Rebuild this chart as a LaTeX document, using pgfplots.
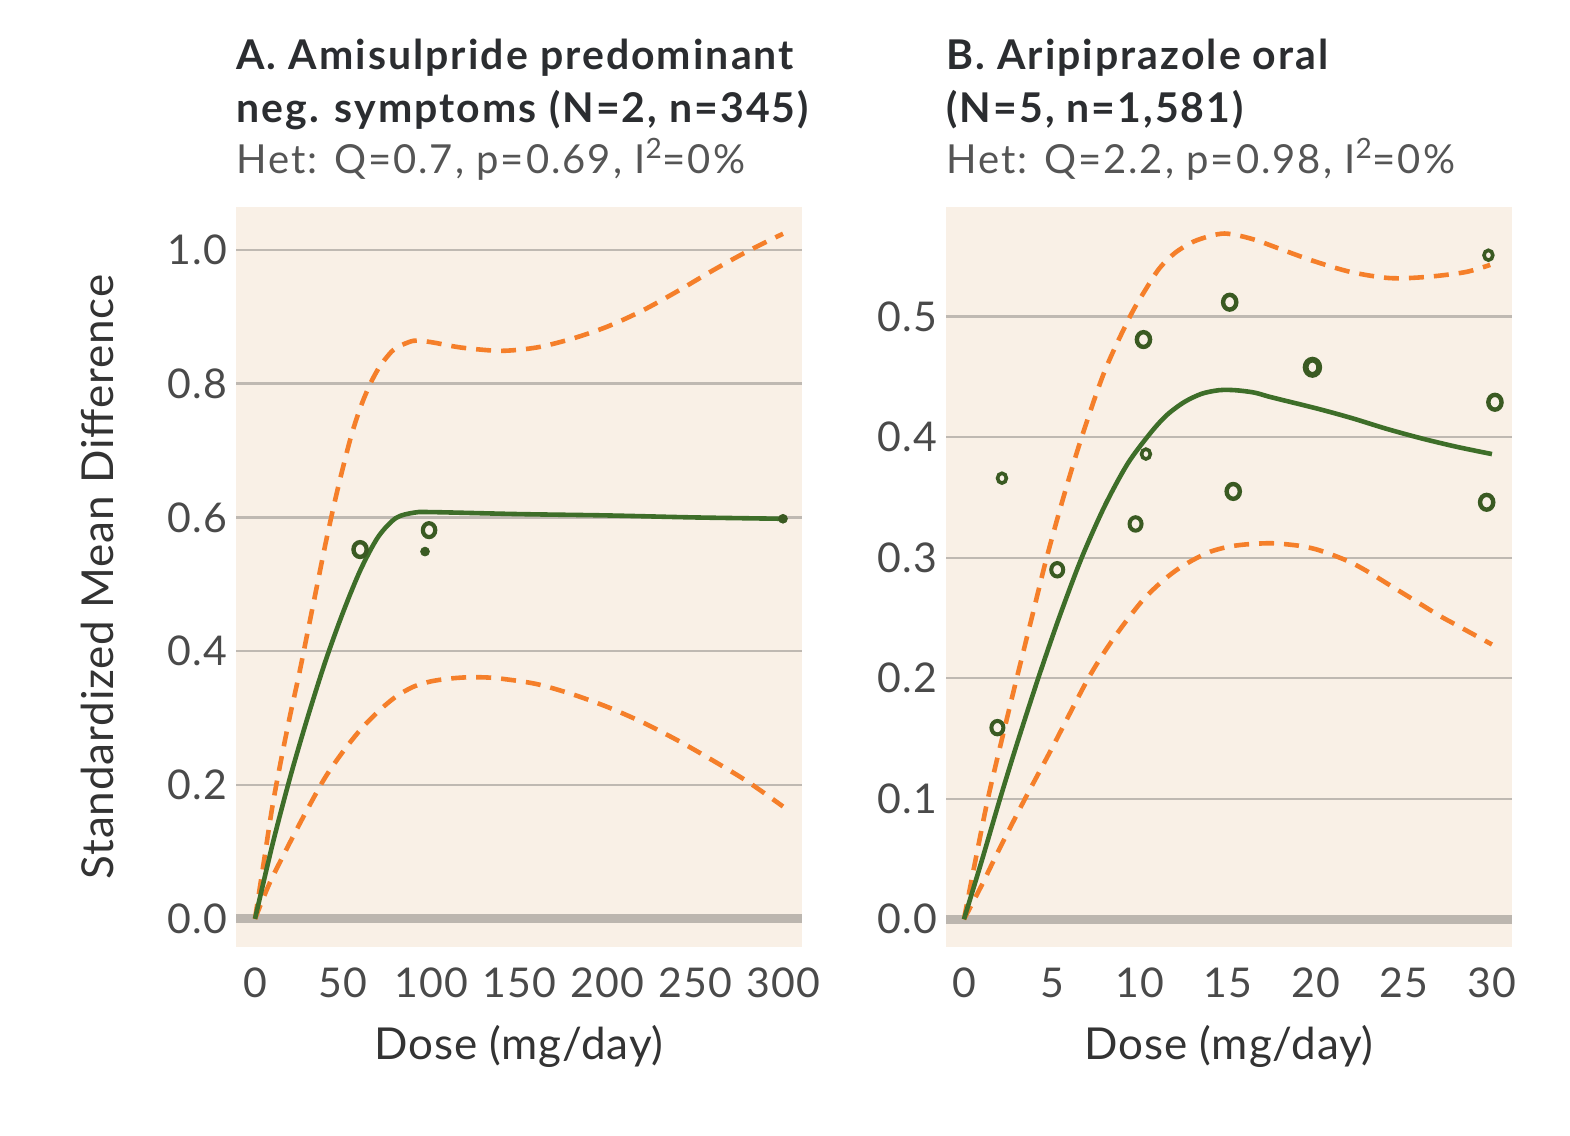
\documentclass[border=0pt]{standalone}
\usepackage{pgfplots}
\pgfplotsset{compat=1.18}
\usepackage{fontspec}
\setmainfont{Lato}
\definecolor{bgc}{HTML}{F9F0E6}
\definecolor{gridc}{HTML}{BFB9B2}
\definecolor{zeroc}{HTML}{BCB6AF}
\definecolor{grn}{HTML}{3E6E29}
\definecolor{mk}{HTML}{3A5A22}
\definecolor{org}{HTML}{F57F2A}
\definecolor{tickc}{HTML}{4A4A4A}
\definecolor{labc}{HTML}{333333}
\definecolor{titc}{HTML}{2B2D30}
\definecolor{hetc}{HTML}{555555}

\pgfplotstableread{
x y
0 0
10 0.112
20 0.212
30 0.302
40 0.385
50 0.458
60 0.522
70 0.571
80 0.599
90 0.607
100 0.608
150 0.605
200 0.603
250 0.600
300 0.598
}\Agreen
\pgfplotstableread{
x y
0 0
5 0.085
10 0.17
15 0.24
20 0.305
25 0.365
30 0.43
35 0.495
40 0.56
45 0.62
50 0.675
55 0.725
60 0.765
65 0.797
70 0.822
75 0.84
80 0.853
90 0.864
100 0.862
110 0.857
120 0.853
140 0.849
160 0.854
180 0.867
200 0.885
220 0.909
240 0.938
260 0.969
280 0.998
300 1.024
}\Aupper
\pgfplotstableread{
x y
0 0
5 0.033
10 0.063
20 0.115
30 0.165
40 0.212
50 0.25
60 0.283
70 0.31
80 0.332
90 0.347
100 0.355
110 0.359
120 0.361
130 0.361
140 0.359
160 0.351
180 0.336
200 0.317
220 0.294
240 0.267
260 0.237
280 0.205
300 0.168
}\Alower
\pgfplotstableread{
x y
0 0
1 0.048
2.05 0.1
3 0.145
4.22 0.2
5.4 0.25
6.69 0.3
8 0.343
9.3 0.378
10.57 0.403
11.5 0.418
12.5 0.429
13.5 0.436
14.5 0.439
15.4 0.439
16.5 0.437
17.5 0.433
20 0.424
22 0.416
24 0.407
26 0.399
28 0.392
30 0.386
}\Bgreen
\pgfplotstableread{
x y
0 0
0.6 0.045
1.36 0.1
2.2 0.152
3 0.2
3.85 0.25
4.7 0.3
5.65 0.35
6.69 0.4
8 0.455
9.43 0.5
10.3 0.522
11.1 0.54
12 0.553
13 0.562
14 0.567
14.8 0.569
15.7 0.567
16.7 0.563
18 0.556
19.9 0.546
22 0.537
24.2 0.532
26.3 0.533
28.5 0.537
29.9 0.543
}\Bupper
\pgfplotstableread{
x y
0 0
1 0.028
2 0.058
3.47 0.1
5 0.142
7.07 0.2
8.5 0.233
10 0.262
11 0.277
12 0.289
13 0.298
14 0.305
15 0.309
16 0.311
17.5 0.312
19 0.31
20 0.307
21 0.302
22 0.296
23 0.288
24 0.279
25 0.27
26 0.261
27 0.252
28 0.244
29 0.236
30 0.228
}\Blower

\begin{document}
\begin{tikzpicture}
\useasboundingbox (0,0) rectangle (785bp,568bp);
\pgfplotsset{
  common/.style={
    scale only axis, width=283bp, height=370bp, anchor=south west,
    axis background/.style={fill=bgc},
    axis line style={draw=none},
    major tick length=0pt,
    ymajorgrids, grid style={line width=1.2bp, color=gridc},
    extra y ticks={0}, extra y tick labels={},
    extra y tick style={grid style={line width=4.6bp, color=zeroc}},
    tick label style={font=\fontsize{20.5bp}{24bp}\selectfont\addfontfeatures{LetterSpace=3}, text=tickc},
    /pgf/number format/assume math mode=true,
    yticklabel style={xshift=-1bp, /pgf/number format/fixed, /pgf/number format/fixed zerofill, /pgf/number format/precision=1},
    xticklabel style={yshift=-7bp},
    label style={font=\fontsize{22bp}{26bp}\selectfont\addfontfeatures{LetterSpace=2}, text=labc},
    xlabel={Dose (mg/day)},
    xlabel style={at={(axis description cs:0.5,-0.135)}, anchor=center},
    grnline/.style={color=grn, line width=2.3bp, smooth, tension=0.5, no marks},
    orgline/.style={color=org, line width=2.3bp, dash pattern=on 7.5bp off 5bp, smooth, tension=0.5, no marks},
    ring/.style 2 args={only marks, mark=o, mark size=##1, mark options={draw=mk, line width=##2, yscale=1.12}},
  },
}
\begin{axis}[common, at={(118bp,94.5bp)},
  xmin=-10.8, xmax=310.8, ymin=-0.042, ymax=1.064,
  xtick={0,50,100,150,200,250,300},
  ytick={0,0.2,0.4,0.6,0.8,1},
  ylabel={Standardized Mean Difference},
  ylabel style={at={(axis description cs:-0.2456,0.5)}, anchor=center}]
\addplot[orgline] table {\Aupper};
\addplot[orgline] table {\Alower};
\addplot[grnline] table {\Agreen};
\addplot[ring={3.3bp}{2.2bp}] coordinates {(59.7,0.552)};
\addplot[ring={3.1bp}{2.1bp}] coordinates {(98.9,0.581)};
\addplot[only marks, mark=*, mark size=2.2bp, mark options={draw=mk, fill=mk}] coordinates {(96.6,0.549) (300,0.598)};
\end{axis}
\begin{axis}[common, at={(473bp,94.5bp)},
  xmin=-1.02, xmax=31.14, ymin=-0.023, ymax=0.591,
  xtick={0,5,10,15,20,25,30},
  ytick={0,0.1,0.2,0.3,0.4,0.5}]
\addplot[orgline] table {\Bupper};
\addplot[orgline] table {\Blower};
\addplot[grnline] table {\Bgreen};
\addplot[ring={2.2bp}{1.8bp}] coordinates {(2.16,0.366) (10.34,0.386) (29.8,0.551)};
\addplot[ring={3.0bp}{2.0bp}] coordinates {(1.9,0.159) (5.3,0.290) (9.75,0.328)};
\addplot[ring={3.3bp}{2.2bp}] coordinates {(10.2,0.481) (15.1,0.512) (15.3,0.355) (30.17,0.429) (29.7,0.346)};
\addplot[ring={3.4bp}{2.9bp}] coordinates {(19.8,0.458)};
\end{axis}
\tikzset{ttl/.style={anchor=base west, inner sep=0, font=\bfseries\fontsize{20.5bp}{24bp}\selectfont\addfontfeatures{LetterSpace=5}, text=titc},
         het/.style={anchor=base west, inner sep=0, font=\fontsize{20bp}{24bp}\selectfont\addfontfeatures{LetterSpace=5}, text=hetc}}
\node[ttl] at (118bp,533bp) {A. Amisulpride predominant};
\node[ttl] at (118bp,506.5bp) {neg. symptoms (N=2, n=345)};
\node[het] at (118bp,481bp) {Het: Q=0.7, p=0.69, I\textsuperscript{2}=0\%};
\node[ttl] at (473bp,533bp) {B. Aripiprazole oral};
\node[ttl] at (473bp,506.5bp) {(N=5, n=1,581)};
\node[het] at (473bp,481bp) {Het: Q=2.2, p=0.98, I\textsuperscript{2}=0\%};
\end{tikzpicture}
\end{document}
